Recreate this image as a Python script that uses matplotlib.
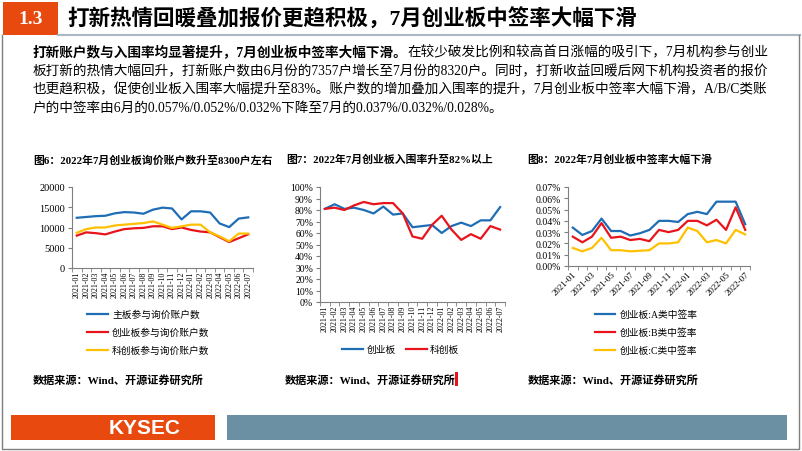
import matplotlib
matplotlib.use("Agg")
import matplotlib.pyplot as plt
from matplotlib.patches import Rectangle

plt.rcParams['font.family'] = ['Liberation Serif', 'Noto Sans CJK SC']

months = ["2021-01", "2021-02", "2021-03", "2021-04", "2021-05", "2021-06", "2021-07",
          "2021-08", "2021-09", "2021-10", "2021-11", "2021-12", "2022-01", "2022-02",
          "2022-03", "2022-04", "2022-05", "2022-06", "2022-07"]

# fig 6: accounts taking part in pricing
main_acc = [12400, 12600, 12800, 12900, 13500, 13800, 13700, 13400, 14400, 14900,
            14700, 12000, 14000, 14000, 13700, 11000, 10100, 12200, 12500]
gem_acc = [8000, 8800, 8600, 8300, 9000, 9600, 9800, 9900, 10300, 10300,
           9600, 10000, 9400, 9000, 8800, 7600, 6400, 7357, 8320]
star_acc = [8700, 9600, 10000, 10000, 10500, 10700, 10900, 11100, 11500, 10700,
            9900, 10300, 10700, 10700, 8800, 7800, 6600, 8500, 8500]

# fig 7: in-range rate (%)
gem_rate = [81, 85, 81, 82, 80, 77, 83, 76, 77, 65, 66, 67, 60, 66, 69, 66, 71, 71, 82.5]
star_rate = [81, 82, 80, 84, 87, 85, 86, 86, 77, 57, 55, 67, 75, 63, 54, 59, 55, 66, 63]

# fig 8: GEM winning rate (%)
rate_a = [0.034, 0.0275, 0.031, 0.042, 0.031, 0.031, 0.027, 0.029, 0.032, 0.040,
          0.040, 0.039, 0.046, 0.048, 0.046, 0.057, 0.057, 0.057, 0.037]
rate_b = [0.026, 0.021, 0.026, 0.038, 0.025, 0.026, 0.023, 0.024, 0.022, 0.032,
          0.030, 0.032, 0.040, 0.040, 0.036, 0.041, 0.032, 0.052, 0.032]
rate_c = [0.016, 0.013, 0.016, 0.025, 0.014, 0.014, 0.013, 0.0135, 0.014, 0.020,
          0.020, 0.021, 0.034, 0.031, 0.021, 0.023, 0.020, 0.032, 0.028]

BLUE, RED, YEL = '#1f6db5', '#e8141c', '#ffc000'
ORANGE, GREY = '#e8490f', '#7f7f7f'

W, H = 802, 452
fig = plt.figure(figsize=(W / 100, H / 100), dpi=100)

bg = fig.add_axes([0, 0, 1, 1])
bg.set_xlim(0, W)
bg.set_ylim(H, 0)
bg.axis('off')

# header
bg.add_patch(Rectangle((3, 3), 55, 33, color=ORANGE, lw=0))
bg.text(30.5, 20, '1.3', color='white', fontsize=14, fontweight='bold',
        ha='center', va='center', family='Liberation Serif')
bg.text(67, 20, '打新热情回暖叠加报价更趋积极，7月创业板中签率大幅下滑',
        fontsize=15.5, fontweight='bold', va='center')
bg.plot([58, 800], [36, 36], color='#a9b8c4', lw=1.5)
bg.plot([2, 2, 799, 799], [36, 450, 450, 36], color=GREY, lw=1)

# paragraph
fs_p = 9.8
rend = fig.canvas.get_renderer()
t = bg.text(33, 53, '打新账户数与入围率均显著提升，7月创业板中签率大幅下滑。',
            fontsize=fs_p, fontweight='bold', va='center')
bb = t.get_window_extent(renderer=rend)
x_end = bg.transData.inverted().transform((bb.x1, bb.y0))[0]
bg.text(x_end, 53, '在较少破发比例和较高首日涨幅的吸引下，7月机构参与创业',
        fontsize=fs_p, va='center')
para = ['板打新的热情大幅回升，打新账户数由6月份的7357户增长至7月份的8320户。同时，打新收益回暖后网下机构投资者的报价',
        '也更趋积极，促使创业板入围率大幅提升至83%。账户数的增加叠加入围率的提升，7月创业板中签率大幅下滑，A/B/C类账',
        '户的中签率由6月的0.057%/0.052%/0.032%下降至7月的0.037%/0.032%/0.028%。']
for i, line in enumerate(para):
    bg.text(33, 71.5 + 18.5 * i, line, fontsize=fs_p, va='center')

# chart titles
bg.text(33, 160, '图6：2022年7月创业板询价账户数升至8300户左右', fontsize=7.8, fontweight='bold', va='center')
bg.text(286, 160, '图7：2022年7月创业板入围率升至82%以上', fontsize=7.8, fontweight='bold', va='center')
bg.text(527, 160, '图8：2022年7月创业板中签率大幅下滑', fontsize=7.8, fontweight='bold', va='center')

# sources
for xs in (33, 285, 528):
    bg.text(xs, 380, '数据来源：Wind、开源证券研究所', fontsize=8, fontweight='bold', va='center')
bg.add_patch(Rectangle((455, 373), 2.5, 14, color=RED, lw=0))

# footer
bg.add_patch(Rectangle((11, 416), 204, 25, color=ORANGE, lw=0))
bg.text(145, 428.5, 'KYSEC', color='white', fontsize=15, fontweight='bold',
        ha='center', va='center', family='Liberation Sans')
bg.add_patch(Rectangle((227, 416), 560, 25, color='#6b8fa3', lw=0))


def axes_px(l, t, r, b):
    return fig.add_axes([l / W, 1 - b / H, (r - l) / W, (b - t) / H])


def setup(ax, ylim, yticks, ylabels, fs_y):
    ax.set_xlim(-0.5, 18.5)
    ax.set_ylim(*ylim)
    ax.set_yticks(yticks)
    ax.set_yticklabels(ylabels, fontsize=fs_y)
    for s in ('top', 'right'):
        ax.spines[s].set_visible(False)
    for s in ('left', 'bottom'):
        ax.spines[s].set_color(GREY)
        ax.spines[s].set_linewidth(0.8)
    ax.tick_params(axis='y', length=3, color=GREY, pad=2)
    ax.set_xticks([i - 0.5 for i in range(20)], minor=True)
    ax.tick_params(axis='x', which='minor', length=3, color=GREY)
    ax.tick_params(axis='x', which='major', length=0)
    ax.patch.set_alpha(0)


x = list(range(len(months)))

# fig 6
ax1 = axes_px(72, 188, 253, 269)
ax1.plot(x, main_acc, color=BLUE, lw=1.6)
ax1.plot(x, gem_acc, color=RED, lw=1.6)
ax1.plot(x, star_acc, color=YEL, lw=1.6)
setup(ax1, (0, 20000), [0, 5000, 10000, 15000, 20000],
      ['0', '5000', '10000', '15000', '20000'], 7.5)
ax1.set_xticks(x)
ax1.set_xticklabels(months, rotation=90, fontsize=5.8)
ax1.tick_params(axis='x', which='major', pad=2)

for i, (lab, c) in enumerate([('主板参与询价账户数', BLUE), ('创业板参与询价账户数', RED),
                              ('科创板参与询价账户数', YEL)]):
    yy = 315 + 18 * i
    bg.plot([87, 108], [yy, yy], color=c, lw=1.6)
    bg.text(112, yy, lab, fontsize=7, va='center')

# fig 7
ax2 = axes_px(320, 188, 505, 303)
ax2.plot(x, gem_rate, color=BLUE, lw=1.6)
ax2.plot(x, star_rate, color=RED, lw=1.6)
setup(ax2, (0, 100), list(range(0, 101, 10)), [f'{v}%' for v in range(0, 101, 10)], 7)
ax2.set_xticks(x)
ax2.set_xticklabels(months, rotation=90, fontsize=5.8)
ax2.tick_params(axis='x', which='major', pad=2)

bg.plot([342, 363], [350, 350], color=BLUE, lw=1.6)
bg.text(367, 350, '创业板', fontsize=7, va='center')
bg.plot([406, 427], [350, 350], color=RED, lw=1.6)
bg.text(430, 350, '科创板', fontsize=7, va='center')

# fig 8
ax3 = axes_px(568, 188, 750, 267)
ax3.plot(x, rate_a, color=BLUE, lw=1.6)
ax3.plot(x, rate_b, color=RED, lw=1.6)
ax3.plot(x, rate_c, color=YEL, lw=1.6)
yt = [0.0, 0.01, 0.02, 0.03, 0.04, 0.05, 0.06, 0.07]
setup(ax3, (0, 0.07), yt, [f'{v:.2f}%' for v in yt], 7)
ax3.set_xticks(x[::2])
ax3.set_xticklabels(months[::2], rotation=45, ha='right', rotation_mode='anchor', fontsize=6.5)
ax3.tick_params(axis='x', which='major', pad=3)

for i, (lab, c) in enumerate([('创业板:A类中签率', BLUE), ('创业板:B类中签率', RED),
                              ('创业板:C类中签率', YEL)]):
    yy = 315 + 18 * i
    bg.plot([595, 615], [yy, yy], color=c, lw=1.6)
    bg.text(620, yy, lab, fontsize=7, va='center')

fig.savefig('out.png', dpi=100)
